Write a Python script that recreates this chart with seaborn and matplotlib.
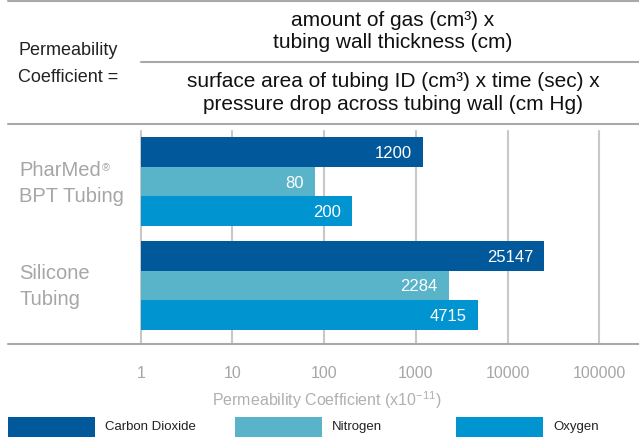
import pandas as pd
import numpy as np
import matplotlib
matplotlib.use('Agg')
import matplotlib.pyplot as plt
import seaborn as sns
from matplotlib.lines import Line2D
from matplotlib.patches import Rectangle
from matplotlib.ticker import NullLocator
from matplotlib.transforms import blended_transform_factory

sns.set_style("white")
plt.rcParams['font.family'] = ['Liberation Sans', 'DejaVu Sans']
plt.rcParams['mathtext.fontset'] = 'custom'
plt.rcParams['mathtext.rm'] = 'Liberation Sans'

# data
tubing = ['PharMed BPT Tubing', 'Silicone Tubing']
tubing_lines = [('PharMed', 'BPT Tubing'), ('Silicone', 'Tubing')]
gases = ['Carbon Dioxide', 'Nitrogen', 'Oxygen']
pharmed_vals = [1200, 80, 200]
silicone_vals = [25147, 2284, 4715]
gas_colors = ['#01589a', '#59b4ca', '#0094d1']
tick_vals = [1, 10, 100, 1000, 10000, 100000]
tick_labels = ['1', '10', '100', '1000', '10000', '100000']

df = pd.DataFrame({
    'tubing': np.repeat(tubing, len(gases)),
    'gas': gases * len(tubing),
    'value': pharmed_vals + silicone_vals,
})

W, H = 639, 440
fig = plt.figure(figsize=(W / 100, H / 100), dpi=100)


def fx(px):
    return px / W


def fy(py):
    return 1 - py / H


gray_txt = '#a6a6a6'
gray_line = '#a9a9a9'
gray_grid = '#c8c8c8'

ax = fig.add_axes([fx(140.7), fy(344), fx(W - 140.7), (344 - 131) / H])
sns.barplot(data=df, y='tubing', x='value', hue='gas', hue_order=gases,
            palette=gas_colors, orient='h', width=0.855, gap=0,
            linewidth=0, saturation=1, legend=False, ax=ax)
ax.set_xscale('log')
ax.set_xlim(1, 10 ** ((W - 140.7) / 91.7))
ax.set_ylim(1.564, -0.488)
ax.xaxis.set_minor_locator(NullLocator())
ax.set_xticks(tick_vals)
ax.set_xticklabels(tick_labels)
ax.set_yticks([])
ax.set_xlabel('')
ax.set_ylabel('')
for s in ax.spines.values():
    s.set_visible(False)
ax.xaxis.grid(True, color=gray_grid, lw=1.5)
ax.set_axisbelow(True)
for gl in ax.get_xgridlines():
    gl.set_clip_on(False)
ax.tick_params(axis='x', length=9.4, width=1.5, color=gray_grid,
               labelcolor=gray_txt, labelsize=11.5, pad=6.5)

for cont in ax.containers:
    for bar, v in zip(cont, cont.datavalues):
        ax.annotate(f'{v:.0f}', xy=(v, bar.get_y() + bar.get_height() / 2),
                    xytext=(-8, 0), textcoords='offset points', ha='right',
                    va='center_baseline', color='white', fontsize=12)

trans = blended_transform_factory(fig.transFigure, ax.transData)
for i, (l1, l2) in enumerate(tubing_lines):
    t1 = ax.annotate(l1, xy=(fx(19), i), xycoords=trans, xytext=(0, 4.3),
                     textcoords='offset points', ha='left', va='baseline',
                     fontsize=14.5, color=gray_txt, annotation_clip=False)
    ax.annotate(l2, xy=(fx(19), i), xycoords=trans, xytext=(0, -14.4),
                textcoords='offset points', ha='left', va='baseline',
                fontsize=14.5, color=gray_txt, annotation_clip=False)
    if l1 == 'PharMed':
        ax.annotate('®', xy=(1, 1), xycoords=t1, xytext=(0.5, -1.5),
                    textcoords='offset points', ha='left', va='top',
                    fontsize=8, color=gray_txt, annotation_clip=False)

# header formula
fig.text(fx(18), fy(55), 'Permeability', ha='left', va='baseline', fontsize=13, color='#222222')
fig.text(fx(18), fy(81.7), 'Coefficient =', ha='left', va='baseline', fontsize=13, color='#222222')
fig.text(fx(393), fy(26), 'amount of gas (cm³) x', ha='center', va='baseline', fontsize=15, color='#111111')
fig.text(fx(393), fy(48.5), 'tubing wall thickness (cm)', ha='center', va='baseline', fontsize=15, color='#111111')
fig.text(fx(393), fy(87), 'surface area of tubing ID (cm³) x time (sec) x', ha='center', va='baseline', fontsize=15, color='#111111')
fig.text(fx(393), fy(109.5), 'pressure drop across tubing wall (cm Hg)', ha='center', va='baseline', fontsize=15, color='#111111')

for x0, y in [(8, 1), (141, 61.7), (8, 124), (8, 344)]:
    fig.add_artist(Line2D([fx(x0), 1], [fy(y), fy(y)], color=gray_line, lw=1.5))

fig.text(fx(327), fy(400), r'Permeability Coefficient (x10$^{\mathregular{-11}}$)',
         ha='center', va='center', fontsize=11.5, color='#b0b0b0')

# legend
for g, c, sx, tx in zip(gases, gas_colors, [8, 235, 456], [105, 332, 553]):
    fig.add_artist(Rectangle((fx(sx), fy(437)), fx(87), 20 / H,
                             transform=fig.transFigure, color=c, lw=0))
    fig.text(fx(tx), fy(427), g, ha='left', va='center', fontsize=9.5, color='#222222')

fig.savefig('out.png', dpi=100)
